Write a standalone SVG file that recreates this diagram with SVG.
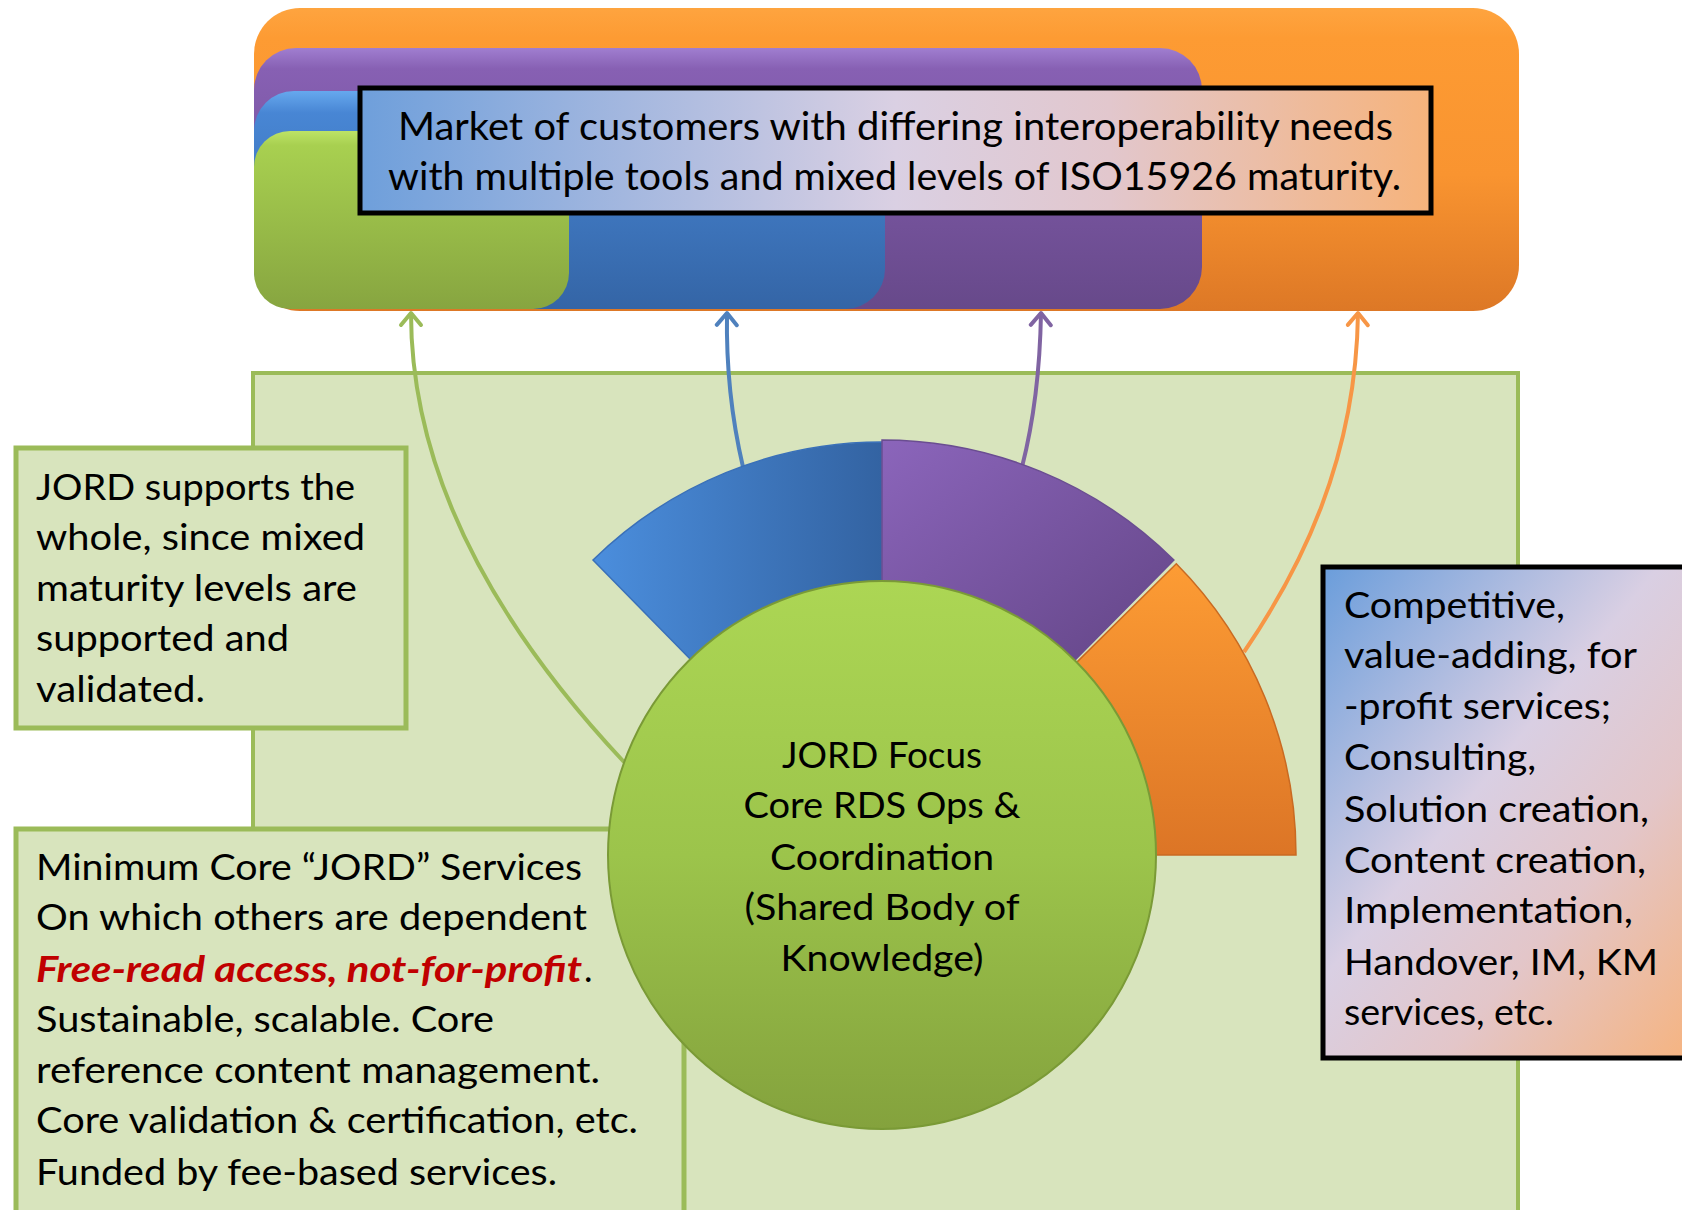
<svg xmlns="http://www.w3.org/2000/svg" width="1682" height="1210" viewBox="0 0 1682 1210">
<style>
.t{font-family:Lato,"Liberation Sans",sans-serif;font-size:36px;fill:#000}
.top{font-size:38px}
.red{font-weight:bold;font-style:italic;fill:#c00000}
.gbox{fill:#d8e4bd;stroke:#9bbb59;stroke-width:5}
.conn{fill:none;stroke-width:4}
</style>
<defs>
<linearGradient id="gOr" x1="0" y1="0" x2="0" y2="1"><stop offset="0" stop-color="#fea43f"/><stop offset="0.1" stop-color="#fd9b33"/><stop offset="0.55" stop-color="#f99430"/><stop offset="1" stop-color="#dd7826"/></linearGradient>
<linearGradient id="gPu" x1="0" y1="0" x2="0" y2="1"><stop offset="0" stop-color="#a07ed0"/><stop offset="0.08" stop-color="#8760b3"/><stop offset="1" stop-color="#67498a"/></linearGradient>
<linearGradient id="gBl" x1="0" y1="0" x2="0" y2="1"><stop offset="0" stop-color="#66a8ee"/><stop offset="0.1" stop-color="#4886d4"/><stop offset="1" stop-color="#3465a6"/></linearGradient>
<linearGradient id="gGr" x1="0" y1="0" x2="0" y2="1"><stop offset="0" stop-color="#bde366"/><stop offset="0.08" stop-color="#a8d050"/><stop offset="1" stop-color="#87a540"/></linearGradient>
<linearGradient id="gBox" x1="0" y1="0" x2="1" y2="0"><stop offset="0" stop-color="#6e9fdb"/><stop offset="0.5" stop-color="#dad0e3"/><stop offset="0.7" stop-color="#e2c7cd"/><stop offset="1" stop-color="#f6b37b"/></linearGradient>
<linearGradient id="gRbox" x1="0" y1="0" x2="1" y2="1"><stop offset="0" stop-color="#6a9ddb"/><stop offset="0.42" stop-color="#d9cfe3"/><stop offset="0.65" stop-color="#e3c6c9"/><stop offset="1" stop-color="#f8b176"/></linearGradient>
<linearGradient id="gSBl" x1="0" y1="0" x2="1" y2="0"><stop offset="0" stop-color="#4b8edd"/><stop offset="1" stop-color="#3363a2"/></linearGradient>
<linearGradient id="gSPu" x1="0" y1="0" x2="1" y2="1"><stop offset="0" stop-color="#8b65bb"/><stop offset="1" stop-color="#634586"/></linearGradient>
<linearGradient id="gSOr" x1="0" y1="0" x2="0" y2="1"><stop offset="0" stop-color="#fd9c34"/><stop offset="1" stop-color="#dc7526"/></linearGradient>
<linearGradient id="gCir" x1="0" y1="0" x2="0" y2="1"><stop offset="0" stop-color="#acd654"/><stop offset="0.5" stop-color="#9cc44b"/><stop offset="1" stop-color="#84a23d"/></linearGradient>
<marker id="aGr" viewBox="-16 -13 20 26" refX="0" refY="0" markerWidth="20" markerHeight="26" markerUnits="userSpaceOnUse" orient="auto"><path d="M -12 -10 L 0 0 L -12 10" fill="none" stroke="#9bbb59" stroke-width="4" stroke-linecap="round" stroke-linejoin="round"/></marker>
<marker id="aBl" viewBox="-16 -13 20 26" refX="0" refY="0" markerWidth="20" markerHeight="26" markerUnits="userSpaceOnUse" orient="auto"><path d="M -12 -10 L 0 0 L -12 10" fill="none" stroke="#4f81bd" stroke-width="4" stroke-linecap="round" stroke-linejoin="round"/></marker>
<marker id="aPu" viewBox="-16 -13 20 26" refX="0" refY="0" markerWidth="20" markerHeight="26" markerUnits="userSpaceOnUse" orient="auto"><path d="M -12 -10 L 0 0 L -12 10" fill="none" stroke="#8064a2" stroke-width="4" stroke-linecap="round" stroke-linejoin="round"/></marker>
<marker id="aOr" viewBox="-16 -13 20 26" refX="0" refY="0" markerWidth="20" markerHeight="26" markerUnits="userSpaceOnUse" orient="auto"><path d="M -12 -10 L 0 0 L -12 10" fill="none" stroke="#f79646" stroke-width="4" stroke-linecap="round" stroke-linejoin="round"/></marker>
</defs>
<rect width="1682" height="1210" fill="#fff"/>

<g id="market">
<rect x="254" y="8" width="1265" height="303" rx="46" fill="url(#gOr)"/>
<rect x="254" y="48" width="948" height="261" rx="42" fill="url(#gPu)"/>
<rect x="254" y="91" width="631" height="218" rx="40" fill="url(#gBl)"/>
<rect x="254" y="131" width="315" height="178" rx="36" fill="url(#gGr)"/>
</g>
<g id="market-label">
<rect x="360" y="88" width="1071" height="125" fill="url(#gBox)" stroke="#000" stroke-width="5"/>
<text class="t top" x="398" y="140" textLength="995" lengthAdjust="spacingAndGlyphs">Market of customers with differing interoperability needs</text>
<text class="t top" x="388" y="190" textLength="1013" lengthAdjust="spacingAndGlyphs">with multiple tools and mixed levels of ISO15926 maturity.</text>
</g>

<g id="jord-area">
<rect x="253" y="373" width="1265" height="900" fill="#d8e4bd" stroke="#9bbb59" stroke-width="4"/>
</g>

<g id="connectors">
<path class="conn" stroke="#9bbb59" d="M 624 762 C 500 630, 411 480, 411 313" marker-end="url(#aGr)"/>
<path class="conn" stroke="#4f81bd" d="M 743 467 C 732 420, 726 370, 727 313" marker-end="url(#aBl)"/>
<path class="conn" stroke="#8064a2" d="M 1022 467 C 1034 420, 1040 370, 1041 313" marker-end="url(#aPu)"/>
<path class="conn" stroke="#f79646" d="M 1244 652 C 1300 570, 1356 460, 1358 313" marker-end="url(#aOr)"/>
</g>

<g id="box-supports">
<rect class="gbox" x="16" y="448" width="390" height="280"/>
<text class="t" x="36" y="500" textLength="319" lengthAdjust="spacingAndGlyphs">JORD supports the</text>
<text class="t" x="36" y="550" textLength="329" lengthAdjust="spacingAndGlyphs">whole, since mixed</text>
<text class="t" x="36" y="601" textLength="321" lengthAdjust="spacingAndGlyphs">maturity levels are</text>
<text class="t" x="36" y="651" textLength="253" lengthAdjust="spacingAndGlyphs">supported and</text>
<text class="t" x="36" y="702" textLength="169" lengthAdjust="spacingAndGlyphs">validated.</text>
</g>

<g id="box-core">
<rect class="gbox" x="16" y="829" width="668" height="420"/>
<text class="t" x="36" y="880" textLength="546" lengthAdjust="spacingAndGlyphs">Minimum Core “JORD” Services</text>
<text class="t" x="36" y="930" textLength="551" lengthAdjust="spacingAndGlyphs">On which others are dependent</text>
<text class="t red" x="36" y="982" textLength="546" lengthAdjust="spacingAndGlyphs">Free-read access, not-for-profit</text>
<text class="t" x="584" y="982">.</text>
<text class="t" x="36" y="1032" textLength="458" lengthAdjust="spacingAndGlyphs">Sustainable, scalable. Core</text>
<text class="t" x="36" y="1083" textLength="564" lengthAdjust="spacingAndGlyphs">reference content management.</text>
<text class="t" x="36" y="1133" textLength="602" lengthAdjust="spacingAndGlyphs">Core validation &amp; certification, etc.</text>
<text class="t" x="36" y="1185" textLength="521" lengthAdjust="spacingAndGlyphs">Funded by fee-based services.</text>
</g>

<g id="sector-blue">
<path d="M 882 442 A 413 413 0 0 0 593 560 L 693 662 A 270 270 0 0 1 882 585 Z" fill="url(#gSBl)" stroke="#3a70b8" stroke-width="1.5"/>
</g>
<g id="sector-purple">
<path d="M 882 440 A 415 415 0 0 1 1173.9 560 L 1071.9 663.1 A 270 270 0 0 0 882 585 Z" fill="url(#gSPu)" stroke="#6a4d91" stroke-width="1.5"/>
</g>
<g id="sector-orange">
<path d="M 1176.3 563.8 A 414 414 0 0 1 1296 855 L 1152 855 A 270 270 0 0 0 1073.9 665.1 Z" fill="url(#gSOr)" stroke="#c96a22" stroke-width="1.5"/>
</g>

<g id="focus">
<circle cx="882" cy="855" r="274" fill="url(#gCir)" stroke="#7a9a36" stroke-width="2"/>
<text class="t" x="882" y="768" text-anchor="middle" textLength="200" lengthAdjust="spacingAndGlyphs">JORD Focus</text>
<text class="t" x="882" y="818" text-anchor="middle" textLength="277" lengthAdjust="spacingAndGlyphs">Core RDS Ops &amp;</text>
<text class="t" x="882" y="870" text-anchor="middle" textLength="224" lengthAdjust="spacingAndGlyphs">Coordination</text>
<text class="t" x="882" y="920" text-anchor="middle" textLength="275" lengthAdjust="spacingAndGlyphs">(Shared Body of</text>
<text class="t" x="882" y="971" text-anchor="middle" textLength="203" lengthAdjust="spacingAndGlyphs">Knowledge)</text>
</g>

<g id="box-services">
<rect x="1323" y="567" width="400" height="491" fill="url(#gRbox)" stroke="#000" stroke-width="5"/>
<text class="t" x="1344" y="618" textLength="221" lengthAdjust="spacingAndGlyphs">Competitive,</text>
<text class="t" x="1344" y="668" textLength="293" lengthAdjust="spacingAndGlyphs">value-adding, for</text>
<text class="t" x="1344" y="719" textLength="267" lengthAdjust="spacingAndGlyphs">-profit services;</text>
<text class="t" x="1344" y="770" textLength="192" lengthAdjust="spacingAndGlyphs">Consulting,</text>
<text class="t" x="1344" y="822" textLength="305" lengthAdjust="spacingAndGlyphs">Solution creation,</text>
<text class="t" x="1344" y="873" textLength="302" lengthAdjust="spacingAndGlyphs">Content creation,</text>
<text class="t" x="1344" y="923" textLength="289" lengthAdjust="spacingAndGlyphs">Implementation,</text>
<text class="t" x="1344" y="975" textLength="314" lengthAdjust="spacingAndGlyphs">Handover, IM, KM</text>
<text class="t" x="1344" y="1025" textLength="210" lengthAdjust="spacingAndGlyphs">services, etc.</text>
</g>
</svg>
